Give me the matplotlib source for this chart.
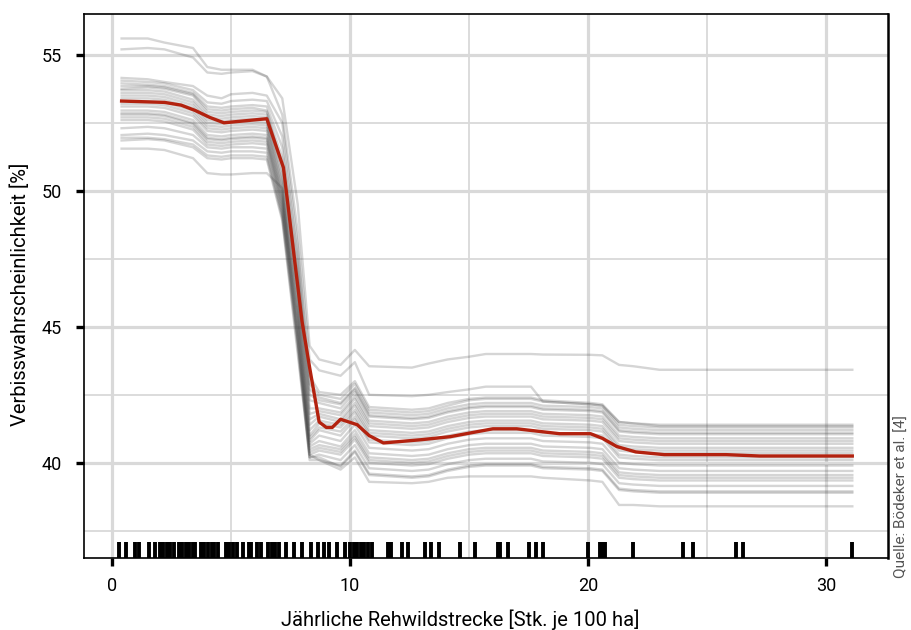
import numpy as np
import matplotlib.pyplot as plt
from matplotlib.ticker import MultipleLocator

plt.rcParams['font.family'] = ['Roboto', 'DejaVu Sans']

# x-Stuetzstellen der ICE-Kurven
xg = [0.4, 1.5, 2.2, 3.4, 4.0, 4.6, 5.0, 5.9, 6.5, 7.15, 7.8, 8.3, 8.7, 9.6, 10.2, 10.8,
      12.6, 13.3, 14.1, 15.0, 15.7, 17.6, 18.1, 20.1, 20.6, 21.3, 21.9, 23.0, 31.1]

# einzelne ICE-Kurven (Verbisswahrscheinlichkeit in %)
ice = [
    [55.6, 55.6, 55.45, 55.25, 54.55, 54.45, 54.45, 54.45, 54.2, 53.4, 49.5, 44.3,
     43.8, 43.6, 44.15, 43.55, 43.5, 43.65, 43.8, 43.9, 44.0, 44.0, 43.98, 43.97, 43.95, 43.6, 43.55, 43.42, 43.42],
    [55.2, 55.25, 55.2, 54.9, 54.35, 54.3, 54.35, 54.4, 54.2, 52.8, 48.5, 43.8,
     43.4, 43.2, 43.7, 42.5, 42.45, 42.5, 42.6, 42.7, 42.8, 42.8, 42.25, 42.15, 42.1, 41.5, 41.45, 41.4, 41.4],
    [54.15, 54.1, 54.0, 53.85, 53.5, 53.4, 53.55, 53.6, 53.5, 52.5, 48.0, 43.2,
     42.6, 42.5, 43.0, 42.05, 41.95, 42.0, 42.2, 42.35, 42.4, 42.4, 42.3, 42.2, 42.15, 41.5, 41.45, 41.35, 41.35],
    [54.05, 54.0, 53.95, 53.7, 53.25, 53.2, 53.3, 53.35, 53.3, 52.0, 47.6, 42.9,
     42.5, 42.35, 42.9, 41.95, 41.85, 41.9, 42.1, 42.3, 42.35, 42.35, 42.25, 42.15, 42.1, 41.4, 41.35, 41.3, 41.3],
    [53.95, 53.9, 53.85, 53.6, 53.1, 53.05, 53.1, 53.15, 53.1, 51.6, 47.3, 42.7,
     42.4, 42.2, 42.75, 41.85, 41.75, 41.8, 42.0, 42.15, 42.2, 42.2, 42.1, 42.05, 42.0, 41.3, 41.25, 41.2, 41.2],
    [53.85, 53.85, 53.8, 53.55, 53.0, 52.95, 53.0, 53.05, 52.95, 51.2, 47.0, 42.5,
     42.3, 42.15, 42.7, 41.75, 41.65, 41.7, 41.9, 42.05, 42.1, 42.1, 42.0, 41.95, 41.9, 41.2, 41.15, 41.1, 41.1],
    [53.75, 53.8, 53.75, 53.5, 52.9, 52.85, 52.9, 52.95, 52.9, 50.9, 46.8, 42.3,
     42.2, 42.0, 42.6, 41.7, 41.6, 41.65, 41.85, 42.0, 42.05, 42.05, 41.95, 41.9, 41.85, 41.15, 41.1, 41.05, 41.05],
    [53.7, 53.7, 53.65, 53.35, 52.8, 52.75, 52.8, 52.85, 52.8, 50.7, 46.6, 42.0,
     42.0, 41.85, 42.45, 41.55, 41.45, 41.5, 41.7, 41.85, 41.9, 41.9, 41.8, 41.75, 41.7, 41.0, 40.95, 40.9, 40.9],
    [53.6, 53.6, 53.55, 53.25, 52.7, 52.65, 52.7, 52.75, 52.7, 50.5, 46.4, 41.8,
     41.9, 41.75, 42.35, 41.45, 41.35, 41.4, 41.6, 41.75, 41.8, 41.8, 41.7, 41.65, 41.6, 40.9, 40.85, 40.8, 40.8],
    [53.5, 53.5, 53.45, 53.15, 52.6, 52.55, 52.6, 52.65, 52.6, 50.3, 46.2, 41.6,
     41.8, 41.6, 42.2, 41.35, 41.25, 41.3, 41.5, 41.65, 41.7, 41.7, 41.6, 41.55, 41.5, 40.8, 40.75, 40.7, 40.7],
    [53.4, 53.4, 53.35, 53.05, 52.5, 52.45, 52.5, 52.55, 52.5, 50.2, 46.0, 41.4,
     41.7, 41.5, 42.1, 41.2, 41.1, 41.15, 41.35, 41.5, 41.55, 41.55, 41.45, 41.4, 41.35, 40.65, 40.6, 40.55, 40.55],
    [53.3, 53.3, 53.25, 52.95, 52.4, 52.35, 52.4, 52.45, 52.4, 50.0, 45.8, 41.2,
     41.55, 41.4, 41.95, 41.1, 41.0, 41.05, 41.25, 41.4, 41.45, 41.45, 41.35, 41.3, 41.25, 40.55, 40.5, 40.45, 40.45],
    [53.2, 53.2, 53.15, 52.85, 52.3, 52.25, 52.3, 52.35, 52.3, 49.9, 45.6, 41.0,
     41.45, 41.3, 41.85, 41.0, 40.9, 40.95, 41.15, 41.3, 41.35, 41.35, 41.25, 41.2, 41.15, 40.45, 40.4, 40.35, 40.35],
    [53.1, 53.1, 53.05, 52.75, 52.2, 52.15, 52.2, 52.25, 52.2, 49.8, 45.5, 40.9,
     41.3, 41.15, 41.7, 40.85, 40.75, 40.8, 41.0, 41.15, 41.2, 41.2, 41.1, 41.05, 41.0, 40.3, 40.25, 40.2, 40.2],
    [52.95, 52.95, 52.9, 52.6, 52.05, 52.0, 52.05, 52.1, 52.05, 49.7, 45.3, 40.8,
     41.2, 41.0, 41.6, 40.75, 40.65, 40.7, 40.9, 41.05, 41.1, 41.1, 41.0, 40.95, 40.9, 40.2, 40.15, 40.1, 40.1],
    [52.85, 52.85, 52.8, 52.5, 51.95, 51.9, 51.95, 52.0, 51.95, 49.6, 45.2, 40.7,
     41.0, 40.8, 41.4, 40.55, 40.45, 40.5, 40.7, 40.85, 40.9, 40.9, 40.8, 40.75, 40.7, 40.0, 39.95, 39.9, 39.9],
    [52.8, 52.8, 52.75, 52.45, 51.9, 51.85, 51.9, 51.95, 51.9, 49.5, 45.0, 40.6,
     40.8, 40.6, 41.2, 40.35, 40.25, 40.3, 40.5, 40.65, 40.7, 40.7, 40.6, 40.55, 40.5, 39.8, 39.75, 39.7, 39.7],
    [52.7, 52.7, 52.65, 52.35, 51.8, 51.75, 51.8, 51.85, 51.8, 49.4, 44.9, 40.5,
     40.65, 40.5, 41.05, 40.2, 40.1, 40.15, 40.35, 40.5, 40.55, 40.55, 40.45, 40.4, 40.35, 39.65, 39.6, 39.55, 39.55],
    [52.6, 52.6, 52.55, 52.25, 51.7, 51.65, 51.7, 51.75, 51.7, 49.3, 44.7, 40.4,
     40.55, 40.4, 40.95, 40.1, 40.0, 40.05, 40.25, 40.4, 40.45, 40.45, 40.35, 40.3, 40.25, 39.55, 39.5, 39.45, 39.45],
    [52.3, 52.35, 52.3, 52.05, 51.6, 51.55, 51.6, 51.6, 51.55, 49.2, 44.5, 40.3,
     40.45, 40.3, 40.85, 40.0, 39.9, 39.95, 40.15, 40.3, 40.35, 40.35, 40.25, 40.2, 40.15, 39.45, 39.4, 39.35, 39.35],
    [52.05, 52.1, 52.05, 51.85, 51.45, 51.4, 51.45, 51.45, 51.4, 49.1, 44.4, 40.2,
     40.3, 40.1, 40.65, 39.8, 39.7, 39.75, 39.95, 40.1, 40.15, 40.15, 40.05, 40.0, 39.95, 39.25, 39.2, 39.15, 39.15],
    [51.95, 51.95, 51.9, 51.7, 51.3, 51.25, 51.3, 51.3, 51.25, 49.0, 44.2, 40.1,
     40.1, 39.9, 40.45, 39.6, 39.5, 39.55, 39.75, 39.9, 39.95, 39.95, 39.85, 39.8, 39.75, 39.05, 39.0, 38.95, 38.95],
    [51.85, 51.9, 51.85, 51.6, 51.2, 51.15, 51.2, 51.2, 51.15, 48.9, 44.0, 40.2,
     40.2, 39.85, 40.4, 39.55, 39.45, 39.5, 39.7, 39.85, 39.9, 39.9, 39.8, 39.75, 39.7, 39.0, 38.95, 38.9, 38.9],
    [51.55, 51.55, 51.5, 51.2, 50.65, 50.6, 50.6, 50.65, 50.65, 50.1, 44.5, 40.3,
     40.1, 39.75, 40.2, 39.3, 39.25, 39.3, 39.45, 39.5, 39.5, 39.5, 39.45, 39.35, 39.3, 38.45, 38.45, 38.4, 38.4],
]

# mittlere Kurve (partielle Abhaengigkeit)
x_pd = [0.4, 2.2, 2.9, 3.5, 4.1, 4.7, 5.3, 5.9, 6.5, 7.2, 7.98, 8.3, 8.7, 9.0, 9.25, 9.6,
        10.3, 10.8, 11.4, 13.0, 14.2, 16.0, 17.0, 18.8, 20.1, 20.6, 21.2, 22.0, 23.2, 25.8, 27.2, 31.1]
y_pd = [53.3, 53.25, 53.15, 52.95, 52.7, 52.5, 52.55, 52.6, 52.65, 50.85, 45.2, 43.5, 41.5, 41.3, 41.3, 41.6,
        41.4, 41.0, 40.73, 40.85, 40.96, 41.25, 41.25, 41.07, 41.07, 40.9, 40.6, 40.4, 40.3, 40.3, 40.25, 40.25]

# Beobachtungen (Rug)
rug = [0.3, 0.6, 0.95, 1.15, 1.55, 1.8, 2.0, 2.15, 2.3, 2.45, 2.6, 2.8, 2.95, 3.1, 3.25, 3.4, 3.5,
       3.75, 3.85, 4.05, 4.2, 4.3, 4.45, 4.8, 4.9, 5.1, 5.25, 5.5, 5.75, 5.85, 6.1, 6.25,
       6.55, 6.7, 6.85, 7.0, 7.3, 7.65, 8.0, 8.35, 8.65, 8.9, 9.1, 9.45, 9.8,
       10.0, 10.15, 10.3, 10.45, 10.6, 10.75, 10.9, 11.6, 11.7, 12.2, 12.45, 13.15, 13.4, 13.75,
       14.6, 15.25, 16.2, 16.3, 16.65, 17.5, 17.8, 18.1, 20.0, 20.5, 20.6, 20.7, 21.9,
       24.0, 24.4, 26.2, 26.5, 31.1]

fig = plt.figure(figsize=(9.11, 6.30), dpi=100)
ax = fig.add_axes([84/911, 1-558/630, (888-84)/911, (558-14)/630])

for kurve in ice:
    ax.plot(xg, kurve, color="#404040", alpha=0.22, lw=1.7, zorder=2)
ax.plot(x_pd, y_pd, color="#b3220f", lw=2.4, zorder=4)
ax.vlines(rug, 0, 0.03, transform=ax.get_xaxis_transform(), color="black", lw=2.8, zorder=5)

ax.set_xlim(-1.18, 32.6)
ax.set_ylim(36.5, 56.5)
ax.xaxis.set_major_locator(MultipleLocator(10))
ax.xaxis.set_minor_locator(MultipleLocator(5))
ax.yaxis.set_major_locator(MultipleLocator(5))
ax.yaxis.set_minor_locator(MultipleLocator(2.5))
ax.grid(which="major", color="#d9d9d9", lw=2.3, zorder=0)
ax.grid(which="minor", color="#d9d9d9", lw=1.3, zorder=0)
ax.set_axisbelow(True)
ax.tick_params(which="major", direction="out", length=6, width=2.4, labelsize=13, color="black")
ax.tick_params(axis="y", which="major", pad=10)
ax.tick_params(axis="x", which="major", pad=8)
ax.tick_params(which="minor", length=0)
for s in ax.spines.values():
    s.set_linewidth(1.2)
ax.spines["right"].set_linewidth(1.8)

ax.set_xlabel("Jährliche Rehwildstrecke [Stk. je 100 ha]", fontsize=14.5)
ax.set_ylabel("Verbisswahrscheinlichkeit [%]", fontsize=14.5)
ax.xaxis.set_label_coords(0.468, -0.095)
ax.yaxis.set_label_coords(-0.067, 0.485)

fig.text(902/911, 1-578/630, "Quelle: Bödeker et al. [4]", rotation=90, ha="center", va="bottom",
         fontsize=11, color="#555555")

fig.savefig("out.png", dpi=100)
